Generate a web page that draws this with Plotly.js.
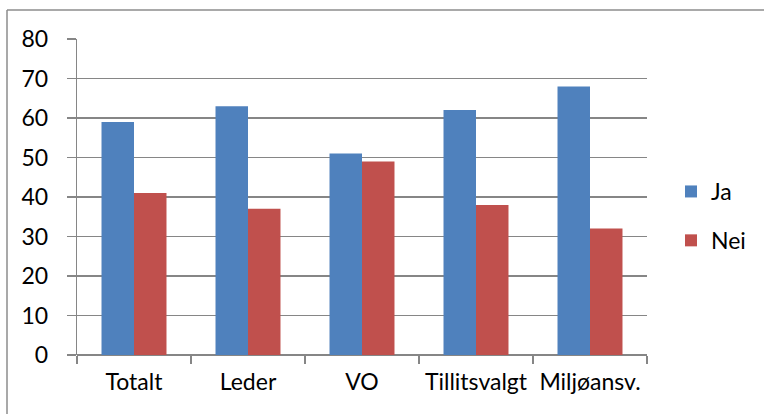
<!DOCTYPE html>
<html>
<head>
<meta charset="utf-8">
<script src="https://cdn.plot.ly/plotly-3.0.1.min.js"></script>
<style>
html,body{margin:0;padding:0;background:#fff;}
#chart{width:764px;height:414px;}
</style>
</head>
<body>
<div id="chart"></div>
<script>
const categories = ["Totalt", "Leder", "VO", "Tillitsvalgt", "Miljøansv."];
const jaValues = [59, 63, 51, 62, 68];
const neiValues = [41, 37, 49, 38, 32];
const yTicks = [0, 10, 20, 30, 40, 50, 60, 70, 80];

const FONT = "Lato, 'Open Sans', sans-serif";
const FS = 23;
const gridCol = "#868686";

const traces = [
  {type: "bar", name: "Ja", x: categories, y: jaValues, legendgroup: "a",
   marker: {color: "#4F81BD", line: {width: 0}}, hoverinfo: "skip"},
  {type: "bar", name: "Nei", x: categories, y: neiValues, legendgroup: "b",
   marker: {color: "#C0504D", line: {width: 0}}, hoverinfo: "skip"}
];

const L = 77, R = 117, T = 39, B = 59;
const pw = 764 - L - R, ph = 414 - T - B;
const px = v => (v - L) / pw;
const py = v => (414 - B - v) / ph;

const layout = {
  width: 764, height: 414,
  margin: {l: L, r: R, t: T, b: B, pad: 0},
  paper_bgcolor: "#ffffff", plot_bgcolor: "#ffffff",
  font: {family: FONT, size: FS, color: "#000000"},
  barmode: "group", bargap: 0.43, bargroupgap: 0,
  showlegend: true,
  legend: {x: px(671), y: py(170), xanchor: "left", yanchor: "top",
           traceorder: "grouped", tracegroupgap: 16,
           font: {family: FONT, size: FS, color: "#000"}, bgcolor: "rgba(0,0,0,0)"},
  xaxis: {
    type: "category", showgrid: false, zeroline: false,
    showline: false, ticks: "outside", tickson: "boundaries",
    ticklen: 8, tickwidth: 1.3, tickcolor: gridCol,
    tickangle: 0, automargin: false,
    ticklabelstandoff: 11,
    tickfont: {family: FONT, size: FS, color: "#000"}
  },
  yaxis: {
    range: [0, 80], tickvals: yTicks, ticktext: yTicks.map(String),
    showgrid: true, gridcolor: gridCol, gridwidth: 1.3,
    zeroline: true, zerolinecolor: gridCol, zerolinewidth: 1.3,
    showline: true, linecolor: gridCol, linewidth: 1.3,
    ticks: "outside", ticklen: 9, tickwidth: 1.3, tickcolor: gridCol,
    ticklabelstandoff: 14, automargin: false,
    tickfont: {family: FONT, size: FS, color: "#000"}
  },
  shapes: [
    {type: "line", xref: "paper", yref: "paper", x0: px(7), x1: px(770), y0: py(10), y1: py(10),
     line: {color: "#8c8c8c", width: 1.5}},
    {type: "line", xref: "paper", yref: "paper", x0: px(7), x1: px(7), y0: py(10), y1: py(420),
     line: {color: "#8c8c8c", width: 1.5}}
  ]
};

Plotly.newPlot("chart", traces, layout, {displayModeBar: false, staticPlot: true});
</script>
</body>
</html>
